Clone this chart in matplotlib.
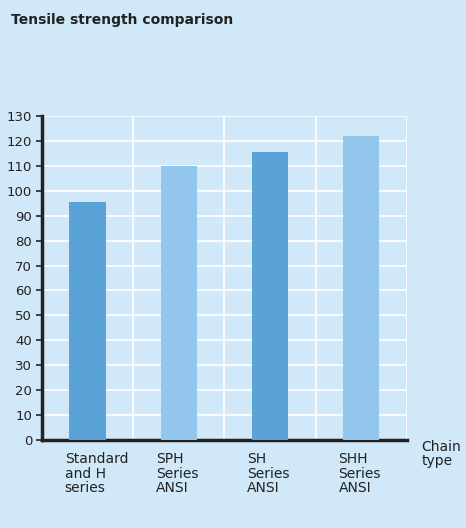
import matplotlib.pyplot as plt

#chart data
categories = ["Standard\nand H\nseries", "SPH\nSeries\nANSI", "SH\nSeries\nANSI", "SHH\nSeries\nANSI"]
strength = [95.5, 110, 115.5, 122]
bar_colors = ["#5ba3d6", "#93c6ec", "#5ba3d6", "#93c6ec"]
y_ticks = list(range(0, 131, 10))

bg = "#d0e8f7"
fig = plt.figure(figsize=(4.66, 5.28), dpi=100, facecolor=bg)
ax = fig.add_axes([0.09, 0.167, 0.783, 0.613], facecolor=bg)

x = list(range(len(categories)))
ax.bar(x, strength, width=0.4, color=bar_colors, zorder=3)

ax.set_xlim(-0.5, len(categories) - 0.5)
ax.set_ylim(0, 130)
ax.set_yticks(y_ticks)
ax.set_xticks([i + 0.5 for i in x])
ax.set_xticklabels([])
ax.grid(True, color="white", linewidth=1.2, zorder=0)
ax.tick_params(axis="x", length=0)
ax.tick_params(axis="y", length=4, width=1.2, labelsize=9.5, colors="#222222", pad=3)

for s in ["top", "right"]:
    ax.spines[s].set_visible(False)
ax.spines["left"].set_linewidth(2.5)
ax.spines["bottom"].set_linewidth(2.5)
ax.spines["left"].set_color("#222222")
ax.spines["bottom"].set_color("#222222")

#category labels
for i, lab in enumerate(categories):
    ax.text(i - 0.25, -5, lab, ha="left", va="top", fontsize=10, color="#222222",
            linespacing=1.05)
ax.text(1.04, 0.0, "Chain\ntype", ha="left", va="top", fontsize=10,
        color="#222222", linespacing=1.05, transform=ax.transAxes, clip_on=False)

fig.text(0.024, 0.975, "Tensile strength comparison", ha="left", va="top",
         fontsize=10, fontweight="bold", color="#222222")

fig.savefig("out.png", dpi=100, facecolor=bg)
